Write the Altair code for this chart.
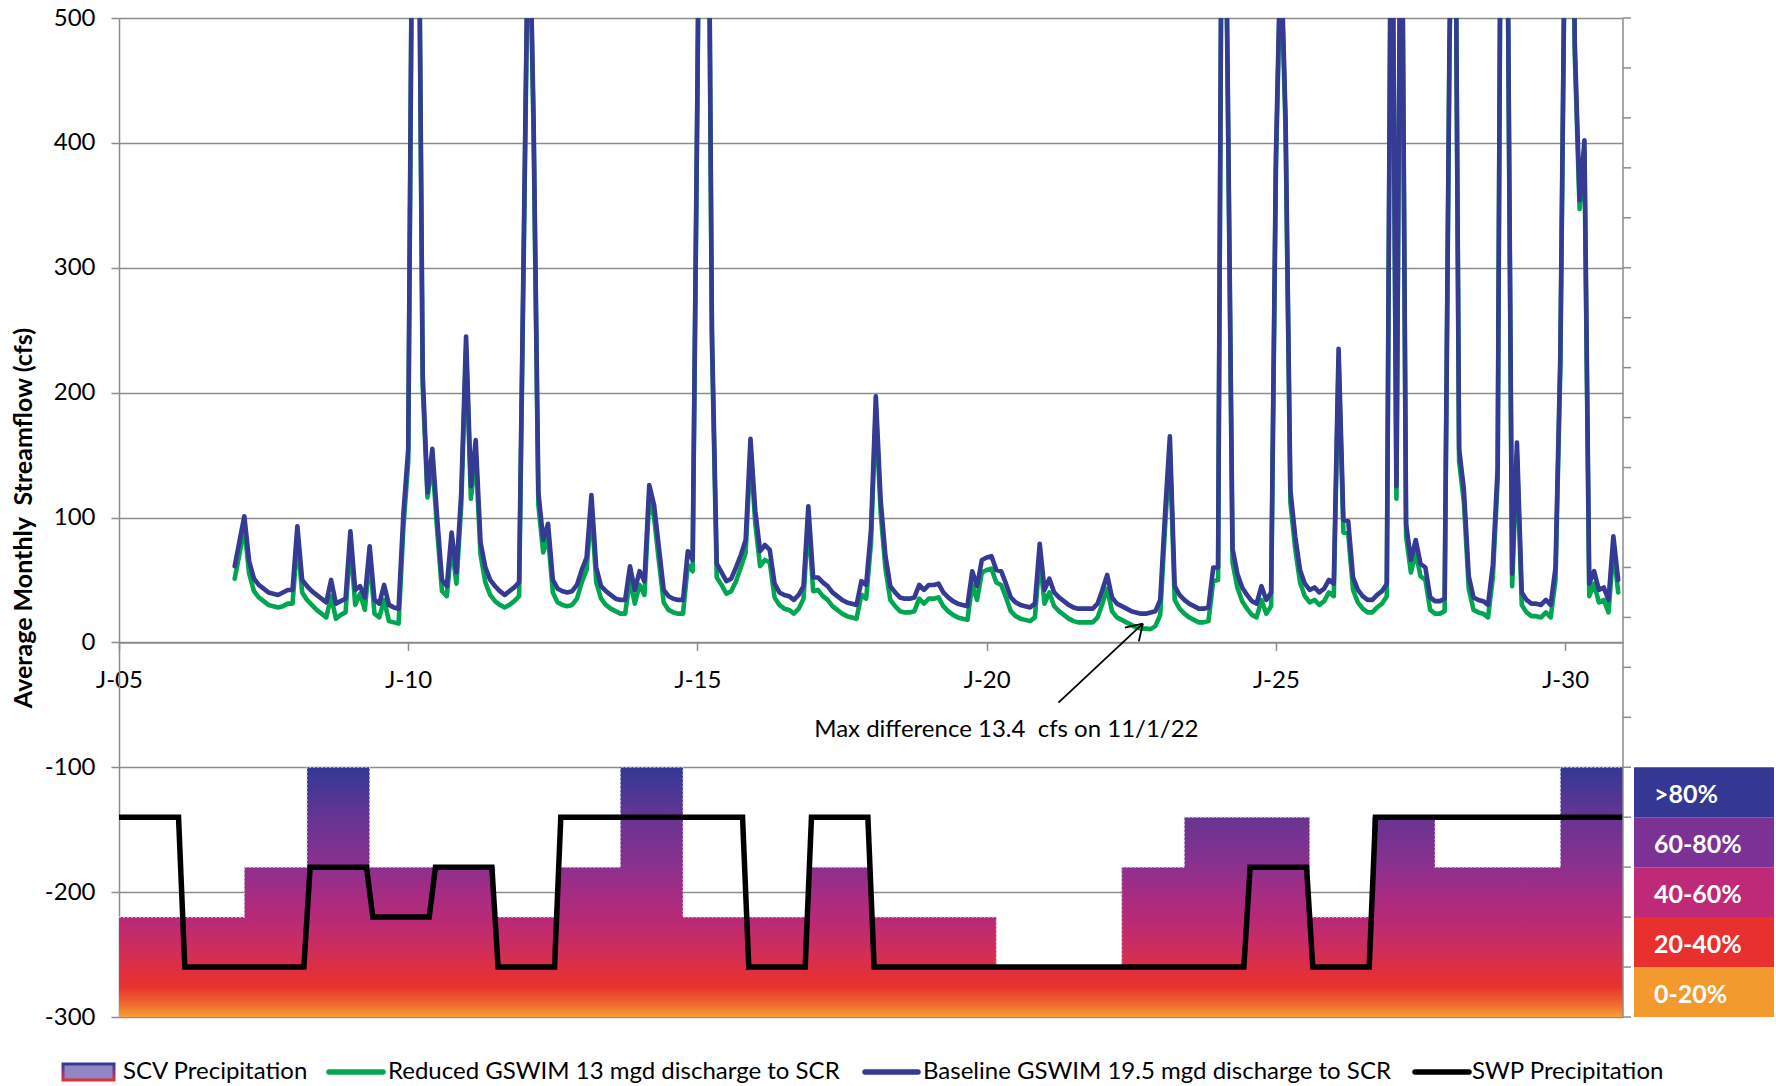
import altair as alt
import pandas as pd

# ---------------- data ----------------
start_year = 2007
baseline = [
    61, 81, 101, 65, 51, 46, 43, 40, 39, 38, 40, 42,
    42, 93, 50, 45, 41, 38, 35, 32, 50, 31, 33, 35,
    89, 42, 45, 36, 77, 34, 31, 46, 30, 28, 27, 103,
    155, 700, 700, 215, 120, 155, 100, 50, 45, 88, 56, 120,
    245, 125, 162, 80, 60, 50, 45, 41, 38, 41, 44, 48,
    330, 620, 420, 120, 82, 95, 50, 43, 41, 40, 41, 46,
    58, 68, 118, 60, 45, 41, 38, 35, 34, 34, 61, 42,
    57, 49, 126, 110, 76, 42, 37, 35, 34, 34, 73, 66,
    450, 900, 800, 250, 63, 56, 49, 51, 60, 70, 82, 163,
    105, 73, 78, 74, 47, 40, 38, 37, 34, 38, 45, 109,
    52, 52, 48, 45, 40, 37, 34, 32, 31, 30, 49, 46,
    90, 197, 114, 69, 45, 40, 36, 35, 35, 36, 46, 42,
    46, 46, 47, 40, 36, 33, 31, 30, 29, 57, 45, 66,
    68, 69, 58, 57, 47, 36, 32, 30, 29, 28, 31, 79,
    42, 51, 40, 36, 33, 30, 28, 27, 27, 27, 27, 31,
    42, 54, 36, 31, 29, 27, 25, 24, 23, 23, 24, 25,
    34, 103, 165, 45, 38, 34, 31, 29, 27, 27, 28, 60,
    60, 800, 450, 75, 55, 44, 38, 33, 31, 45, 34, 40,
    390, 560, 420, 122, 85, 58, 47, 42, 44, 40, 43, 50,
    47, 235, 98, 97, 52, 42, 37, 34, 34, 38, 41, 47,
    700, 125, 700, 95, 66, 82, 63, 60, 36, 33, 33, 35,
    480, 750, 155, 122, 53, 36, 34, 33, 30, 62, 140, 900,
    600, 55, 160, 40, 34, 31, 31, 30, 34, 30, 60, 230,
    600, 800, 480, 354, 402, 47, 57, 42, 44, 34, 85, 50,
]
reduced = [
    51, 71, 92, 55, 41, 36, 33, 30, 29, 28, 29, 31,
    31, 82, 40, 34, 30, 26, 23, 20, 37, 19, 22, 24,
    80, 30, 39, 26, 68, 23, 20, 34, 17, 16, 15, 92,
    145, 690, 690, 205, 116, 145, 90, 41, 37, 78, 47, 110,
    235, 115, 150, 70, 48, 38, 33, 30, 28, 30, 33, 37,
    320, 610, 410, 110, 72, 85, 40, 32, 30, 29, 30, 35,
    48, 58, 108, 48, 35, 30, 27, 25, 23, 23, 50, 31,
    46, 38, 116, 100, 65, 32, 26, 24, 23, 23, 62, 57,
    440, 890, 790, 240, 52, 46, 39, 41, 49, 60, 72, 153,
    95, 61, 66, 64, 36, 30, 27, 26, 23, 27, 35, 99,
    41, 42, 37, 34, 29, 26, 23, 21, 20, 19, 38, 35,
    80, 187, 104, 59, 34, 29, 25, 24, 24, 25, 35, 31,
    35, 35, 36, 29, 25, 22, 20, 19, 18, 46, 34, 56,
    58, 59, 48, 46, 36, 25, 21, 19, 18, 17, 20, 68,
    31, 40, 29, 25, 22, 19, 17, 16, 16, 16, 16, 20,
    31, 43, 25, 20, 18, 16, 14, 12, 11, 11, 10.6, 13,
    22, 92, 154, 34, 27, 23, 20, 18, 16, 16, 17, 49,
    50, 790, 440, 64, 44, 33, 27, 22, 20, 34, 23, 29,
    380, 550, 410, 112, 75, 48, 37, 32, 34, 30, 33, 40,
    37, 225, 88, 87, 42, 32, 27, 24, 24, 28, 31, 37,
    690, 115, 690, 85, 56, 72, 53, 50, 26, 23, 23, 25,
    470, 740, 145, 112, 43, 26, 24, 23, 20, 52, 130, 890,
    590, 45, 150, 30, 24, 21, 21, 20, 24, 20, 50, 220,
    590, 790, 470, 347, 392, 37, 47, 32, 34, 24, 75, 40,
]
# precipitation categories per period (plotted on a secondary category axis)
scv_levels = [-220, -220, -180, -100, -180, -180, -220, -180, -100, -220, -220, -180,
              -220, -220, -260, -260, -180, -140, -140, -220, -140, -180, -180, -100]
swp_levels = [-140, -260, -260, -180, -220, -180, -260, -140, -140, -140, -260, -140,
              -260, -260, -260, -260, -260, -260, -180, -260, -140, -140, -140, -140]

key_labels = [">80%", "60-80%", "40-60%", "20-40%", "0-20%"]
key_top = [-100, -140, -180, -220, -260]
key_bottom = [-140, -180, -220, -260, -300]
key_colors = ["#353893", "#7B3294", "#BF2A78", "#E8302E", "#F39A2E"]

x_ticks = [2005, 2010, 2015, 2020, 2025, 2030]
y_ticks = [-300, -200, -100, 0, 100, 200, 300, 400, 500]
right_ticks = list(range(-300, 501, 40))

y_title = "Average Monthly\u00a0 Streamflow (cfs)"
note_text = "Max difference 13.4\u00a0 cfs on 11/1/22"
note_pos = [2020.34, -70]
arrow_x = [2021.24, 2022.39, 2022.63]
arrow_y = [-48.2, 11.8, 0.8]
arrow_tip = [2022.70, 15]

legend_labels = ["SCV Precipitation", "Reduced GSWIM 13 mgd discharge to SCR",
                 "Baseline GSWIM 19.5 mgd discharge to SCR", "SWP Precipitation"]

# ---------------- styling ----------------
W, H = 1504, 999
FONT = "Lato"
GREEN = "#00A650"
BLUE = "#353A93"
GRID = "#8C8C8C"

flows = pd.DataFrame({
    "yr": [start_year + i / 12 for i in range(len(baseline))],
    "baseline": baseline,
    "reduced": reduced,
})
scv_df = pd.DataFrame({"idx": list(range(len(scv_levels) + 1)),
                       "level": scv_levels + [scv_levels[-1]]})
gap = 0.05
swp_rows = []
n = len(swp_levels)
for i, v in enumerate(swp_levels):
    swp_rows.append({"idx": i + (gap if i > 0 else 0), "level": v})
    swp_rows.append({"idx": i + 1 - (gap if i < n - 1 else 0), "level": v})
swp_df = pd.DataFrame(swp_rows)

key_df = pd.DataFrame({"label": key_labels, "top": key_top, "bottom": key_bottom,
                       "mid": [(a + b) / 2 for a, b in zip(key_top, key_bottom)]})

y_scale = alt.Scale(domain=[-300, 500], nice=False, zero=False)
y_axis = alt.Axis(values=y_ticks, title=y_title, grid=True,
                  gridColor=GRID, gridWidth=1.5, domainColor=GRID, domainWidth=1.5,
                  tickColor=GRID, tickWidth=1.5, tickSize=8, labelFont=FONT,
                  labelFontSize=24, labelColor="black", labelPadding=16,
                  labelExpr="toString(datum.value)", titleFont=FONT, titleFontSize=25,
                  titleFontWeight="bold", titleColor="black", titleX=-96, titleY=H / 2,
                  titleAngle=270, titleAlign="center", titleBaseline="middle")


def Y(field):
    return alt.Y(field, scale=y_scale, axis=y_axis)


yr_scale = alt.Scale(domain=[2005, 2031], nice=False, zero=False)
idx_scale = alt.Scale(domain=[0, len(scv_levels)], nice=False, zero=False)
y0_px = H * (500 - 0) / 800
x_axis = alt.Axis(values=x_ticks, orient="bottom",
                  labelExpr="'J-' + substring(toString(datum.value), 2, 4)",
                  grid=False, domainColor=GRID, domainWidth=1.5, tickColor=GRID,
                  tickWidth=1.5, tickSize=8, labelFont=FONT, labelFontSize=24,
                  labelColor="black", labelPadding=18, labelFlush=False, title=None,
                  offset=-(H - y0_px))

grad = alt.LinearGradient(
    gradient="linear", x1=0, x2=0, y1=0, y2=1,
    stops=[
        alt.GradientStop(color="#343894", offset=0.0),
        alt.GradientStop(color="#4B3793", offset=0.10),
        alt.GradientStop(color="#673492", offset=0.20),
        alt.GradientStop(color="#88318F", offset=0.38),
        alt.GradientStop(color="#A42C84", offset=0.50),
        alt.GradientStop(color="#BA2A75", offset=0.62),
        alt.GradientStop(color="#CE2D5C", offset=0.73),
        alt.GradientStop(color="#E3303A", offset=0.83),
        alt.GradientStop(color="#E8322E", offset=0.88),
        alt.GradientStop(color="#EF6A2F", offset=0.95),
        alt.GradientStop(color="#F5A233", offset=1.0),
    ])

area = alt.Chart(scv_df).mark_area(interpolate="step-after", color=grad).encode(
    x=alt.X("idx:Q", scale=idx_scale, axis=None),
    y=Y("level:Q"),
    y2=alt.datum(-300),
)
area_edge = alt.Chart(scv_df).mark_line(interpolate="step-after", color="#D6D2E6",
                                        strokeWidth=1.2, strokeDash=[2, 2]).encode(
    x=alt.X("idx:Q", scale=idx_scale, axis=None),
    y=Y("level:Q"),
)
swp = alt.Chart(swp_df).mark_line(color="black", strokeWidth=5.5).encode(
    x=alt.X("idx:Q", scale=idx_scale, axis=None),
    y=Y("level:Q"),
)
green = alt.Chart(flows).mark_line(color=GREEN, strokeWidth=4.6, clip=True,
                                   strokeJoin="round", strokeCap="round").encode(
    x=alt.X("yr:Q", scale=yr_scale, axis=None),
    y=Y("reduced:Q"),
)
blue = alt.Chart(flows).mark_line(color=BLUE, strokeWidth=4.6, clip=True,
                                  strokeJoin="round", strokeCap="round").encode(
    x=alt.X("yr:Q", scale=yr_scale, axis=x_axis),
    y=Y("baseline:Q"),
)

note = alt.Chart(pd.DataFrame({"x": [note_pos[0]], "y": [note_pos[1]], "t": [note_text]})
                 ).mark_text(font=FONT, fontSize=24, color="black", align="center",
                             baseline="middle").encode(
    x=alt.X("x:Q", scale=yr_scale, axis=None), y=Y("y:Q"), text="t:N")
arrow = alt.Chart(pd.DataFrame({"x": arrow_x, "y": arrow_y,
                                "x2": [arrow_tip[0]] * 3, "y2": [arrow_tip[1]] * 3})
                  ).mark_rule(color="black", strokeWidth=1.8).encode(
    x=alt.X("x:Q", scale=yr_scale, axis=None), x2="x2:Q", y=Y("y:Q"), y2="y2:Q")

key_rect = alt.Chart(key_df).mark_rect().encode(
    x=alt.value(W + 11), x2=alt.value(W + 151),
    y=Y("top:Q"), y2="bottom:Q",
    color=alt.Color("label:N", scale=alt.Scale(domain=key_labels, range=key_colors),
                    legend=None),
)
key_text = alt.Chart(key_df).mark_text(font=FONT, fontSize=25, fontWeight="bold",
                                       color="white", align="left", dy=3,
                                       baseline="middle").encode(
    x=alt.value(W + 31), y=Y("mid:Q"), text="label:N")

right_df = pd.DataFrame({"v": right_ticks})
right_ticks_layer = alt.Chart(right_df).mark_rule(color=GRID, strokeWidth=1.5).encode(
    x=alt.value(W), x2=alt.value(W + 8), y=Y("v:Q"))
right_line = alt.Chart(pd.DataFrame({"a": [0]})).mark_rule(
    color=GRID, strokeWidth=1.5).encode(x=alt.value(W), y=alt.value(0), y2=alt.value(H))

# ---------------- legend ----------------
LY = 1054
one = pd.DataFrame({"a": [0]})
leg_swatch = alt.Chart(one).mark_rect(
    fill="#8F88C2",
    stroke=alt.LinearGradient(gradient="linear", x1=0, x2=0, y1=0, y2=1,
                              stops=[alt.GradientStop(color="#353893", offset=0),
                                     alt.GradientStop(color="#8A3190", offset=0.5),
                                     alt.GradientStop(color="#E8302E", offset=1)]),
    strokeWidth=3).encode(x=alt.value(-56), x2=alt.value(-5),
                          y=alt.value(LY - 8), y2=alt.value(LY + 8))
leg_layers = [leg_swatch]
for x1, x2, col in [(210, 264, GREEN), (746, 799, BLUE), (1296, 1350, "black")]:
    leg_layers.append(alt.Chart(one).mark_rule(color=col, strokeWidth=5.5,
                                               strokeCap="round").encode(
        x=alt.value(x1), x2=alt.value(x2), y=alt.value(LY), y2=alt.value(LY)))
for xs, lab in zip([4, 269, 804, 1353], legend_labels):
    leg_layers.append(alt.Chart(pd.DataFrame({"t": [lab]})).mark_text(
        font=FONT, fontSize=24, color="black", align="left", baseline="middle").encode(
        x=alt.value(xs), y=alt.value(LY), text="t:N"))

chart = alt.layer(
    area, area_edge, swp, green, blue, note, arrow, key_rect, key_text,
    right_ticks_layer, right_line, *leg_layers
).resolve_scale(x="independent").properties(
    width=W, height=H,
    padding={"left": 119, "top": 18, "right": 153, "bottom": 69},
    autosize=alt.AutoSizeParams(type="none"),
    background="white",
).configure_view(stroke=None)

chart.save("out.html", embed_options={"renderer": "svg", "actions": False})
